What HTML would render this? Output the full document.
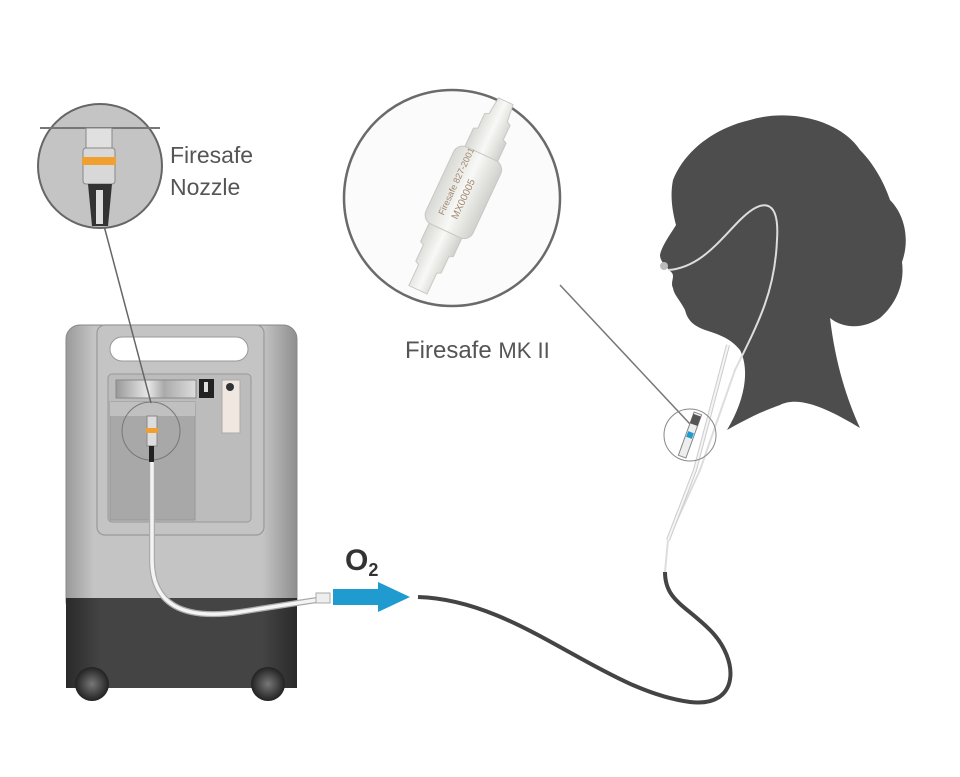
<!DOCTYPE html>
<html><head><meta charset="utf-8"><style>
html,body{margin:0;padding:0;background:#fff;width:960px;height:777px;overflow:hidden}
svg{display:block}
text{font-family:"Liberation Sans",sans-serif}
</style></head><body>
<svg width="960" height="777" viewBox="0 0 960 777">
<defs>
<linearGradient id="body" x1="0" x2="1">
<stop offset="0" stop-color="#9a9a9a"/><stop offset="0.12" stop-color="#c4c4c4"/><stop offset="0.85" stop-color="#c4c4c4"/><stop offset="1" stop-color="#8e8e8e"/>
</linearGradient>
<linearGradient id="base" x1="0" x2="1">
<stop offset="0" stop-color="#2a2a2a"/><stop offset="0.15" stop-color="#444"/><stop offset="0.85" stop-color="#444"/><stop offset="1" stop-color="#2a2a2a"/>
</linearGradient>
<radialGradient id="wh"><stop offset="0" stop-color="#777"/><stop offset="1" stop-color="#222"/></radialGradient>
<linearGradient id="disp" x1="0" x2="1"><stop offset="0" stop-color="#999"/><stop offset="0.4" stop-color="#e8e8e8"/><stop offset="0.6" stop-color="#aaa"/><stop offset="1" stop-color="#ddd"/></linearGradient>
<linearGradient id="val" x1="0" x2="1"><stop offset="0" stop-color="#d8d8d4"/><stop offset="0.5" stop-color="#f8f8f6"/><stop offset="1" stop-color="#d0d0cc"/></linearGradient>
</defs>

<!-- concentrator -->
<rect x="66" y="325" width="231" height="290" rx="14" fill="url(#body)" stroke="#888" stroke-width="1"/>
<rect x="66" y="598" width="231" height="90" fill="url(#base)"/>
<circle cx="92" cy="684" r="17" fill="url(#wh)"/>
<circle cx="268" cy="684" r="17" fill="url(#wh)"/>
<rect x="97" y="325" width="167" height="210" rx="8" fill="none" stroke="#999" stroke-width="1.2"/>
<rect x="110" y="337" width="138" height="24" rx="12" fill="#fff" stroke="#999"/>
<rect x="108" y="374" width="143" height="148" rx="4" fill="#bcbcbc" stroke="#999"/>
<rect x="116" y="380" width="80" height="18" fill="url(#disp)" stroke="#888"/>
<rect x="199" y="379" width="15" height="19" fill="#222"/>
<rect x="204" y="382" width="4" height="10" fill="#ddd"/>
<rect x="222" y="380" width="18" height="53" fill="#f0e8e0" stroke="#aaa"/>
<circle cx="230" cy="387" r="4" fill="#333"/>
<rect x="110" y="402" width="85" height="118" fill="#a8a8a8" stroke="#999"/>
<rect x="110" y="402" width="85" height="14" fill="#c0c0c0"/>
<circle cx="151" cy="431" r="29" fill="none" stroke="#777" stroke-width="1"/>
<rect x="147" y="416" width="10" height="30" fill="#ddd" stroke="#888"/>
<rect x="146" y="428" width="12" height="5" fill="#f0a030"/>
<rect x="149" y="446" width="5" height="18" fill="#222"/>

<!-- white tube -->
<path d="M152 462 L152 560 Q152 625 240 612 Q290 604 330 598" fill="none" stroke="#aaa" stroke-width="6"/>
<path d="M152 462 L152 560 Q152 625 240 612 Q290 604 330 598" fill="none" stroke="#f4f4f4" stroke-width="3.5"/>
<rect x="316" y="593" width="14" height="10" fill="#eee" stroke="#aaa"/>

<!-- arrow -->
<path d="M333 589 L378 589 L378 582 L410 597 L378 612 L378 605 L333 605 Z" fill="#1f9bd0"/>
<text x="345" y="570" font-size="30" font-weight="bold" fill="#333">O<tspan font-size="18" dy="6">2</tspan></text>

<!-- dark tube -->
<path d="M418 597 C520 600 600 690 690 702 C740 708 740 660 710 630 C685 605 665 600 665 572" fill="none" stroke="#444" stroke-width="4"/>

<!-- nozzle callout -->
<line x1="103" y1="222" x2="151" y2="403" stroke="#666" stroke-width="1.5"/>
<circle cx="100" cy="166" r="62" fill="#c4c4c4" stroke="#666" stroke-width="2"/>
<path d="M40 128 L160 128" stroke="#777" stroke-width="2"/>
<rect x="86" y="128" width="26" height="22" fill="#e0e0e0" stroke="#888"/>
<rect x="83" y="148" width="32" height="36" rx="3" fill="#d8d8d8" stroke="#888"/>
<rect x="82" y="157" width="34" height="8" fill="#f0a030"/>
<path d="M88 184 L112 184 L108 226 L92 226 Z" fill="#333"/>
<rect x="96" y="190" width="7" height="34" fill="#ddd"/>
<text x="170" y="163" font-size="23" fill="#555">Firesafe</text>
<text x="170" y="195" font-size="23" fill="#555">Nozzle</text>

<!-- big callout -->
<line x1="560" y1="285" x2="690" y2="424" stroke="#777" stroke-width="1.5"/>
<circle cx="452" cy="198" r="108" fill="#fbfbfb" stroke="#6a6a6a" stroke-width="2.5"/>
<g transform="rotate(25 462 200)">
<path d="M452 92 L468 92 L470 110 L474 112 L474 128 L478 130 L478 150 L442 150 L442 130 L446 128 L446 112 L450 110 Z" fill="url(#val)" stroke="#c8c8c4"/>
<rect x="434" y="150" width="52" height="85" rx="10" fill="url(#val)" stroke="#c8c8c4"/>
<path d="M442 235 L478 235 L478 255 L474 257 L474 275 L470 277 L470 300 L450 300 L450 277 L446 275 L446 257 L442 255 Z" fill="url(#val)" stroke="#c8c8c4"/>
<text x="452" y="222" font-size="9" fill="#a08870" transform="rotate(-90 452 222)">Firesafe 827-2001</text>
<text x="466" y="220" font-size="10" fill="#a08870" transform="rotate(-90 466 220)">MX00005</text>
</g>
<text x="405" y="358" font-size="24" fill="#555">Firesafe <tspan font-size="22">MK II</tspan></text>

<!-- head -->
<path d="M750 120 C790 108 840 120 860 150 C875 165 885 185 890 200 C905 215 910 240 902 262 C905 285 895 305 880 318 C865 328 845 330 830 318 C835 360 845 395 860 428 C830 410 800 395 780 405 C760 412 745 420 727 430 C745 400 750 370 740 350 C730 338 720 335 705 330 C695 326 688 322 685 310 C680 300 674 295 673 288 C670 282 675 277 672 273 C668 268 660 262 660 255 C662 245 672 232 676 225 C672 210 670 195 673 180 C685 150 715 128 750 120 Z" fill="#4d4d4d"/>
<!-- cannula -->
<path d="M668 270 C700 268 720 240 740 220 C760 200 780 195 777 240 C775 290 760 320 735 370 L700 470 L668 540 L665 572" fill="none" stroke="#ddd" stroke-width="2"/>
<circle cx="664" cy="266" r="4" fill="#bbb"/>
<path d="M728 345 L695 470 L668 540" fill="none" stroke="#ccc" stroke-width="4"/>
<path d="M728 345 L695 470 L668 540" fill="none" stroke="#f5f5f5" stroke-width="2"/>
<circle cx="690" cy="435" r="26" fill="none" stroke="#888" stroke-width="1"/>
<g transform="rotate(20 690 435)">
<rect x="686" y="412" width="8" height="46" fill="#eee" stroke="#888"/>
<rect x="686" y="414" width="8" height="10" fill="#555"/>
<rect x="687" y="432" width="6" height="6" fill="#1f9bd0"/>
</g>
</svg>
</body></html>
